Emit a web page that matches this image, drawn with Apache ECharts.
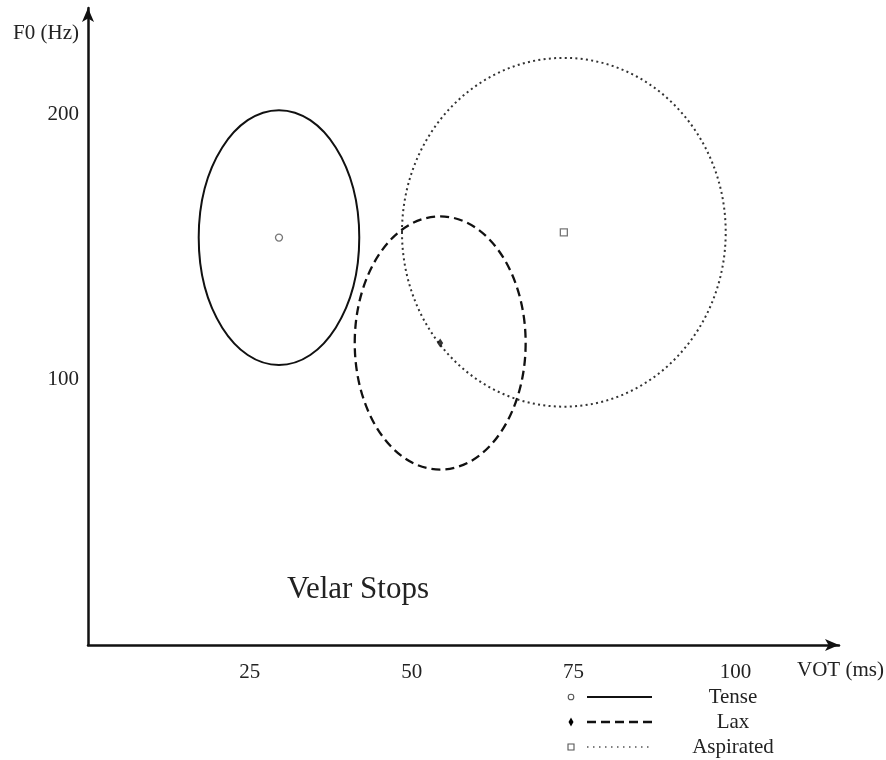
<!DOCTYPE html>
<html>
<head>
<meta charset="utf-8">
<script src="https://cdn.jsdelivr.net/npm/echarts@6/dist/echarts.min.js"></script>
<style>html,body{margin:0;padding:0;background:#fff}#c{width:886px;height:760px}</style>
</head>
<body>
<div id="c"></div>
<script>
// ---- data ----
const groups = ['Tense', 'Lax', 'Aspirated'];
const centerVOT = [29.5, 54.4, 73.5];     // ms
const centerF0 = [153.5, 113.8, 155.5];   // Hz
const radiusVOT = [12.4, 13.2, 25.0];     // ms
const radiusF0 = [48.0, 47.7, 65.7];      // Hz
const xTicks = [25, 50, 75, 100];
const yTicks = [100, 200];

// ---- styles ----
const FONT = "'Liberation Serif', 'DejaVu Serif', serif";
const lineStyles = [
  { stroke: '#111', lineWidth: 2, lineDash: null },
  { stroke: '#111', lineWidth: 2.3, lineDash: [9, 5] },
  { stroke: '#333', lineWidth: 2, lineDash: [2, 3.3] }
];
const markerSymbols = ['circle', 'diamond', 'rect'];
const markerSizes = [7, [6, 9], 7];
const markerStyles = [
  { color: '#fff', borderColor: '#555', borderWidth: 1.3 },
  { color: '#000', borderColor: '#000', borderWidth: 0 },
  { color: '#fff', borderColor: '#555', borderWidth: 1.3 }
];

const chart = echarts.init(document.getElementById('c'), null, { renderer: 'canvas' });

const ellipseData = groups.map((g, i) => [centerVOT[i], centerF0[i], radiusVOT[i], radiusF0[i], i]);

const series = [{
  type: 'custom',
  silent: true,
  data: ellipseData,
  encode: { x: 0, y: 1 },
  renderItem: function (params, api) {
    const c = api.coord([api.value(0), api.value(1)]);
    const s = api.size([api.value(2), api.value(3)]);
    const i = api.value(4);
    const st = lineStyles[i];
    return {
      type: 'ellipse',
      shape: { cx: c[0], cy: c[1], rx: s[0], ry: s[1] },
      style: { fill: null, stroke: st.stroke, lineWidth: st.lineWidth, lineDash: st.lineDash }
    };
  }
}];
groups.forEach((g, i) => {
  series.push({
    type: 'scatter',
    name: g,
    silent: true,
    symbol: markerSymbols[i],
    symbolSize: markerSizes[i],
    itemStyle: markerStyles[i],
    z: 5,
    data: [[centerVOT[i], centerF0[i]]]
  });
});

// legend built from group names (graphic)
const legendGraphics = [];
groups.forEach((g, i) => {
  const y = 697 + i * 25;
  const st = lineStyles[i];
  let marker;
  if (i === 0) marker = { type: 'circle', shape: { cx: 571, cy: y, r: 2.8 }, style: { fill: '#fff', stroke: '#555', lineWidth: 1.1 } };
  else if (i === 1) marker = { type: 'polygon', shape: { points: [[571, y - 4.5], [573.5, y], [571, y + 4.5], [568.5, y]] }, style: { fill: '#000' } };
  else marker = { type: 'rect', shape: { x: 568, y: y - 3, width: 6, height: 6 }, style: { fill: '#fff', stroke: '#555', lineWidth: 1.1 } };
  legendGraphics.push(marker);
  legendGraphics.push({ type: 'line', shape: { x1: 587, y1: y, x2: 652, y2: y }, style: { stroke: i === 2 ? '#555' : st.stroke, lineWidth: i === 2 ? 1.4 : st.lineWidth, lineDash: i === 2 ? [1.5, 4.5] : st.lineDash } });
  legendGraphics.push({ type: 'text', x: 733, y: y, style: { text: g, font: '21px ' + FONT, fill: '#222', align: 'center', verticalAlign: 'middle' } });
});

chart.setOption({
  animation: false,
  backgroundColor: '#fff',
  grid: { left: 88, right: 47, top: 8, bottom: 115 },
  xAxis: {
    type: 'value', min: 0, max: 116, interval: 25,
    axisLine: { show: true, symbol: ['none', 'arrow'], symbolSize: [9, 14], lineStyle: { color: '#111', width: 2.5 } },
    axisTick: { show: false },
    splitLine: { show: false },
    axisLabel: {
      margin: 17, color: '#222', fontFamily: FONT, fontSize: 21,
      formatter: v => xTicks.indexOf(v) >= 0 ? String(v) : ''
    }
  },
  yAxis: {
    type: 'value', min: 0, max: 240, interval: 100,
    axisLine: { show: true, symbol: ['none', 'arrow'], symbolSize: [9, 14], lineStyle: { color: '#111', width: 2.5 } },
    axisTick: { show: false },
    splitLine: { show: false },
    axisLabel: {
      margin: 9, color: '#222', fontFamily: FONT, fontSize: 21,
      formatter: v => yTicks.indexOf(v) >= 0 ? String(v) : ''
    }
  },
  graphic: [
    { type: 'text', x: 46, y: 33, style: { text: 'F0 (Hz)', font: '21px ' + FONT, fill: '#222', align: 'center', verticalAlign: 'middle' } },
    { type: 'text', x: 797, y: 670, style: { text: 'VOT (ms)', font: '21px ' + FONT, fill: '#222', align: 'left', verticalAlign: 'middle' } },
    { type: 'text', x: 358, y: 590, style: { text: 'Velar Stops', font: '31px ' + FONT, fill: '#222', align: 'center', verticalAlign: 'middle' } }
  ].concat(legendGraphics),
  series: series
});
</script>
</body>
</html>
